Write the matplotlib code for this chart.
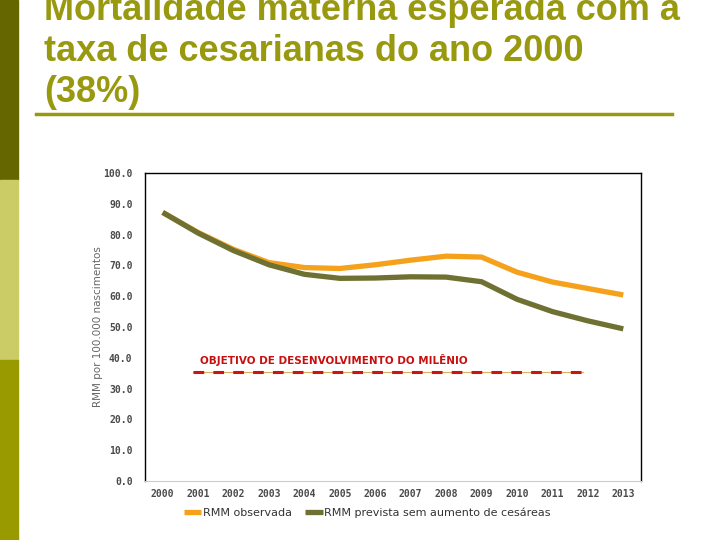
import matplotlib.pyplot as plt
from matplotlib.lines import Line2D

years = list(range(2000, 2014))
rmm_observada = [87.2, 80.7, 75.2, 70.9, 69.3, 69.0, 70.2, 71.7, 73.0, 72.7, 67.8, 64.6, 62.5, 60.4]
rmm_prevista = [87.2, 80.5, 74.8, 70.2, 67.1, 65.8, 65.9, 66.3, 66.2, 64.7, 59.0, 55.0, 52.0, 49.4]
meta_anos = [2000.85, 2011.85]
meta_valor = [35.5, 35.5]
y_ticks = [0, 10, 20, 30, 40, 50, 60, 70, 80, 90, 100]

titulo = ["Mortalidade materna esperada com a",
          "taxa de cesarianas do ano 2000",
          "(38%)"]

orange = "#f5a11c"
olive = "#6e7131"
title_col = "#999910"

fig = plt.figure(figsize=(7.2, 5.4), dpi=100)

# faixas laterais do slide
fig.patches.append(plt.Rectangle((0, 1 - 180 / 540), 18 / 720, 180 / 540,
                                 transform=fig.transFigure, color="#666600", zorder=0))
fig.patches.append(plt.Rectangle((0, 1 - 360 / 540), 18 / 720, 180 / 540,
                                 transform=fig.transFigure, color="#cccc66", zorder=0))
fig.patches.append(plt.Rectangle((0, 0), 18 / 720, 180 / 540,
                                 transform=fig.transFigure, color="#999900", zorder=0))

# titulo (a primeira linha fica cortada no topo, como no slide)
for i, linha in enumerate(titulo):
    fig.text(44 / 720, 1 - (20 + 41 * i) / 540, linha, fontsize=26, fontweight="bold",
             family="Liberation Sans", color=title_col, va="baseline", ha="left")
fig.lines.append(Line2D([36 / 720, 672 / 720], [1 - 114 / 540, 1 - 114 / 540],
                        transform=fig.transFigure, color=title_col, lw=2.5))

ax = fig.add_axes([145 / 720, 1 - 481 / 540, 496 / 720, 308 / 540])
ax.plot(years, rmm_observada, color=orange, lw=3.8, solid_joinstyle="round",
        solid_capstyle="butt", label="RMM observada", zorder=3)
ax.plot(years, rmm_prevista, color=olive, lw=3.8, solid_joinstyle="round",
        solid_capstyle="butt", label="RMM prevista sem aumento de cesáreas", zorder=4)

ax.plot(meta_anos, meta_valor, color="#d8b060", lw=0.8, zorder=2)
ax.plot(meta_anos, meta_valor, color="#cc1414", lw=2.2, dashes=(3.5, 3), zorder=2)
ax.text(2001.05, 39.2, "OBJETIVO DE DESENVOLVIMENTO DO MILÊNIO", color="#c81010",
        fontsize=7.5, fontweight="bold", va="center", ha="left")

ax.set_xlim(1999.5, 2013.5)
ax.set_ylim(0, 100)
ax.set_yticks(y_ticks)
ax.set_yticklabels([f"{v:.1f}" for v in y_ticks], family="DejaVu Sans Mono",
                   fontweight="bold", fontsize=7, color="#4a4a4a")
ax.set_xticks(years)
ax.set_xticklabels([str(y) for y in years], family="DejaVu Sans Mono",
                   fontsize=7, fontweight="bold", color="#4a4a4a")
ax.tick_params(axis="y", length=0, pad=9)
ax.tick_params(axis="x", length=0, pad=6)
for s in ["left", "top", "right"]:
    ax.spines[s].set_color("black")
    ax.spines[s].set_linewidth(1.0)
ax.spines["bottom"].set_color("#cccccc")
ax.set_ylabel("RMM por 100.000 nascimentos", fontsize=7.5, color="#666666")
ax.yaxis.set_label_coords(-(145 - 103) / 496, 0.5)

fig.legend(loc="center", bbox_to_anchor=(367 / 720, 1 - 513 / 540), ncol=2, frameon=False,
           fontsize=8, handlelength=1.6, handletextpad=0.1, columnspacing=1.2,
           labelcolor="#333333")

fig.savefig("out.png", dpi=100)
